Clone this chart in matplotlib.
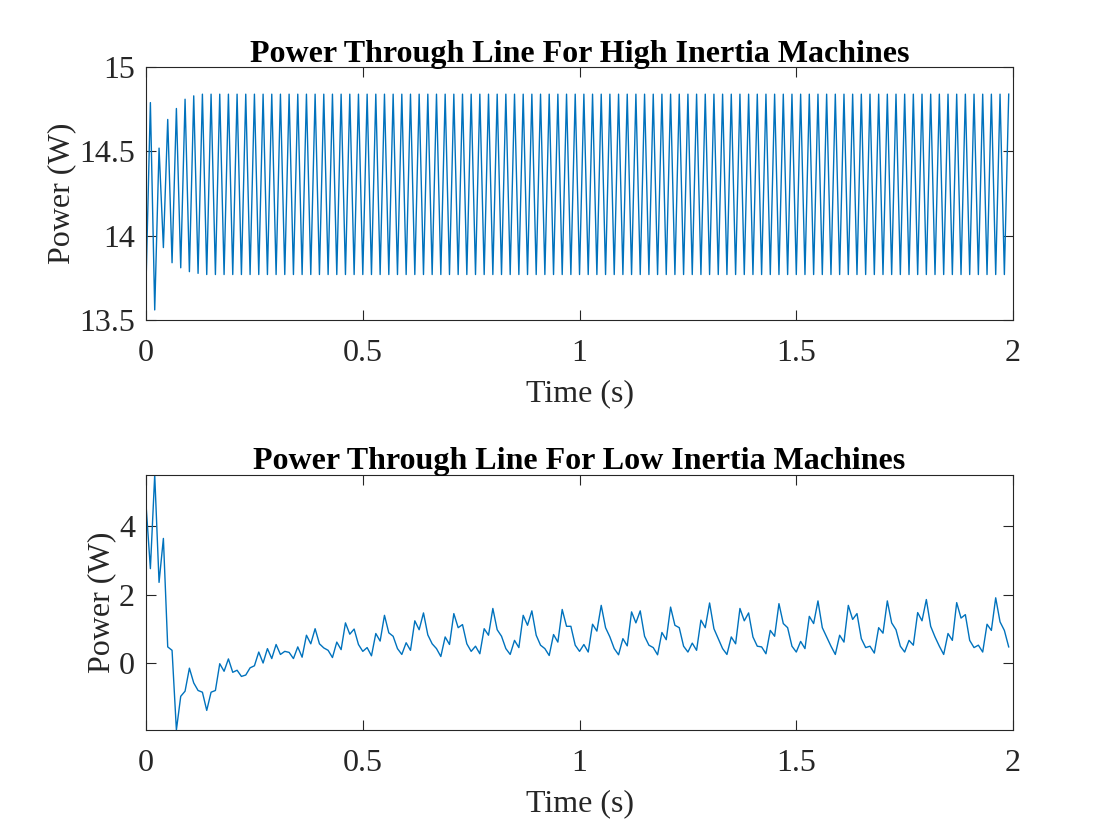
import numpy as np
import matplotlib
matplotlib.use("Agg")
import matplotlib.pyplot as plt

# sample step 0.01 s, 200 samples (0 .. 1.99 s)
t = np.arange(200) * 0.01

# high inertia: alternating trough / peak values
high_start = [13.72, 14.79, 13.56, 14.52, 13.93, 14.69, 13.84, 14.755,
              13.81, 14.81, 13.787, 14.83, 13.777, 14.84]
high_trough, high_peak = 13.77, 14.84
high_power = high_start + [high_trough, high_peak] * 93

low_power = [
    4.61, 2.76, 5.49, 2.36, 3.64, 0.48, 0.38, -1.94, -0.96, -0.81,
    -0.14, -0.57, -0.79, -0.84, -1.37, -0.84, -0.79, -0.01, -0.23, 0.13,
    -0.26, -0.20, -0.38, -0.34, -0.13, -0.07, 0.33, 0.01, 0.43, 0.14,
    0.55, 0.26, 0.35, 0.32, 0.14, 0.48, 0.18, 0.82, 0.57, 1.01,
    0.57, 0.45, 0.38, 0.17, 0.62, 0.40, 1.18, 0.85, 1.00, 0.55,
    0.35, 0.46, 0.22, 0.87, 0.65, 1.40, 0.89, 0.79, 0.43, 0.26,
    0.60, 0.38, 1.24, 0.98, 1.47, 0.83, 0.57, 0.43, 0.20, 0.77,
    0.55, 1.45, 1.04, 1.13, 0.57, 0.35, 0.50, 0.28, 1.01, 0.82,
    1.60, 0.98, 0.79, 0.43, 0.26, 0.67, 0.46, 1.40, 1.11, 1.53,
    0.82, 0.53, 0.43, 0.23, 0.84, 0.62, 1.57, 1.08, 1.08, 0.53,
    0.35, 0.55, 0.33, 1.14, 0.94, 1.69, 1.04, 0.77, 0.43, 0.25,
    0.72, 0.51, 1.50, 1.18, 1.53, 0.79, 0.53, 0.46, 0.25, 0.90,
    0.69, 1.64, 1.11, 1.04, 0.50, 0.33, 0.59, 0.38, 1.26, 1.04,
    1.76, 1.01, 0.72, 0.43, 0.26, 0.77, 0.57, 1.60, 1.24, 1.47,
    0.77, 0.50, 0.48, 0.28, 0.96, 0.79, 1.74, 1.16, 1.04, 0.50,
    0.33, 0.64, 0.43, 1.37, 1.16, 1.82, 1.04, 0.77, 0.50, 0.26,
    0.82, 0.62, 1.69, 1.28, 1.45, 0.72, 0.46, 0.50, 0.30, 1.04,
    0.88, 1.82, 1.18, 0.98, 0.50, 0.33, 0.67, 0.53, 1.48, 1.24,
    1.86, 1.08, 0.77, 0.50, 0.26, 0.87, 0.67, 1.77, 1.32, 1.42,
    0.67, 0.46, 0.53, 0.33, 1.14, 0.96, 1.91, 1.21, 0.96, 0.48,
]

x_ticks = [0, 0.5, 1, 1.5, 2]
x_tick_labels = ["0", "0.5", "1", "1.5", "2"]

plt.rcParams['font.family'] = ['Liberation Serif', 'DejaVu Serif']
plt.rcParams['font.size'] = 23

fig = plt.figure(figsize=(11.2, 8.4), dpi=100)
ax1 = fig.add_axes([0.1304, 0.619, 0.7741, 0.301])
ax2 = fig.add_axes([0.1304, 0.131, 0.7741, 0.3036])

line_color = "#0072BD"
axis_gray = "#262626"

def style(ax):
    ax.set_xlim(0, 2)
    ax.set_xticks(x_ticks)
    ax.set_xticklabels(x_tick_labels)
    ax.tick_params(direction="in", top=True, right=True, length=7, width=0.8,
                   colors=axis_gray, labelsize=23)
    ax.tick_params(axis="x", pad=14)
    ax.tick_params(axis="y", pad=8)
    for s in ax.spines.values():
        s.set_color(axis_gray)
        s.set_linewidth(0.8)
    ax.set_xlabel("Time (s)", color=axis_gray, fontsize=23, labelpad=8)
    ax.set_ylabel("Power (W)", color=axis_gray, fontsize=23, labelpad=2)

ax1.plot(t, high_power, color=line_color, lw=1.0)
ax1.set_ylim(13.5, 15)
ax1.set_yticks([13.5, 14, 14.5, 15])
ax1.set_yticklabels(["13.5", "14", "14.5", "15"])
ax1.set_title("Power Through Line For High Inertia Machines", fontsize=23,
              fontweight="bold", pad=4)
style(ax1)

ax2.plot(t, low_power, color=line_color, lw=1.0)
ax2.set_ylim(min(low_power), max(low_power))
ax2.set_yticks([0, 2, 4])
ax2.set_title("Power Through Line For Low Inertia Machines", fontsize=23,
              fontweight="bold", pad=4)
style(ax2)

fig.savefig("out.png", dpi=100)
